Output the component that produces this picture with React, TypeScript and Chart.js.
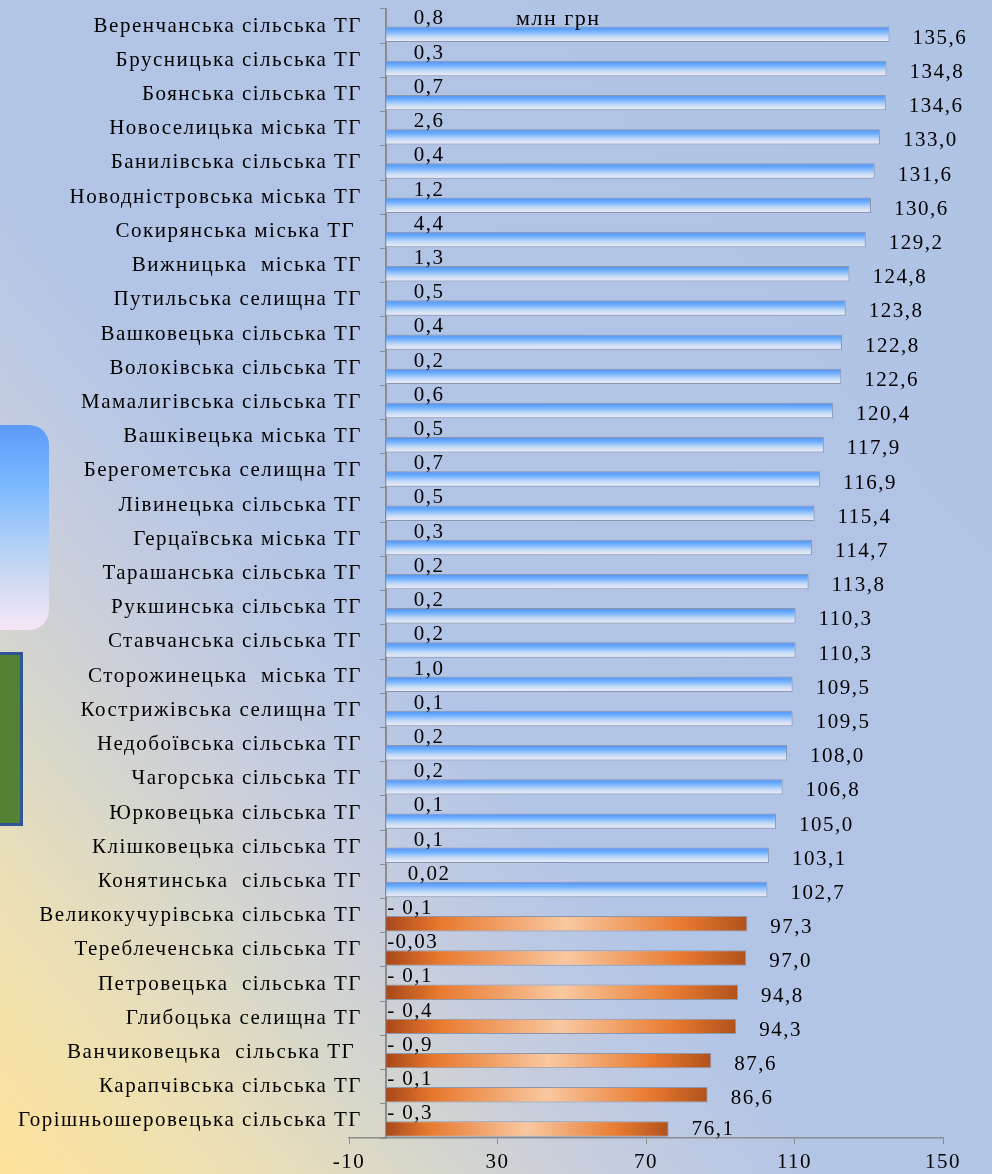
import React, { useEffect, useRef } from 'react';
import { Chart, registerables } from 'chart.js';

Chart.register(...registerables);

const categories = [
  'Веренчанська сільська ТГ',
  'Брусницька сільська ТГ',
  'Боянська сільська ТГ',
  'Новоселицька міська ТГ',
  'Банилівська сільська ТГ',
  'Новодністровська міська ТГ',
  'Сокирянська міська ТГ ',
  'Вижницька  міська ТГ',
  'Путильська селищна ТГ',
  'Вашковецька сільська ТГ',
  'Волоківська сільська ТГ',
  'Мамалигівська сільська ТГ',
  'Вашківецька міська ТГ',
  'Берегометська селищна ТГ',
  'Лівинецька сільська ТГ',
  'Герцаївська міська ТГ',
  'Тарашанська сільська ТГ',
  'Рукшинська сільська ТГ',
  'Ставчанська сільська ТГ',
  'Сторожинецька  міська ТГ',
  'Кострижівська селищна ТГ',
  'Недобоївська сільська ТГ',
  'Чагорська сільська ТГ',
  'Юрковецька сільська ТГ',
  'Клішковецька сільська ТГ',
  'Конятинська  сільська ТГ',
  'Великокучурівська сільська ТГ',
  'Тереблеченська сільська ТГ',
  'Петровецька  сільська ТГ',
  'Глибоцька селищна ТГ',
  'Ванчиковецька  сільська ТГ ',
  'Карапчівська сільська ТГ',
  'Горішньошеровецька сільська ТГ',
];

const changeValues = [
  0.8, 0.3, 0.7, 2.6, 0.4, 1.2, 4.4, 1.3, 0.5, 0.4, 0.2, 0.6, 0.5, 0.7, 0.5, 0.3,
  0.2, 0.2, 0.2, 1.0, 0.1, 0.2, 0.2, 0.1, 0.1, 0.02, -0.1, -0.03, -0.1, -0.4, -0.9,
  -0.1, -0.3,
];

const mainValues = [
  135.6, 134.8, 134.6, 133.0, 131.6, 130.6, 129.2, 124.8, 123.8, 122.8, 122.6, 120.4,
  117.9, 116.9, 115.4, 114.7, 113.8, 110.3, 110.3, 109.5, 109.5, 108.0, 106.8, 105.0,
  103.1, 102.7, 97.3, 97.0, 94.8, 94.3, 87.6, 86.6, 76.1,
];

const xTicks = [-10, 30, 70, 110, 150];
const unitLabel = 'млн грн';
const threshold = 100;

const CATEGORY_PCT = 0.95;
const BAR_PCT = 0.95;
const FONT = "'Liberation Serif', 'Times New Roman', serif";
const AXIS_GRAY = '#8c8c8c';
const SPACING = '1.5px';

function fmt(v: number, decimals: number) {
  return v.toFixed(decimals).replace('.', ',');
}

function changeText(v: number) {
  const dec = Math.abs(v) > 0 && Math.abs(v) < 0.1 ? 2 : 1;
  if (v < 0) {
    return dec === 2 ? '-' + fmt(Math.abs(v), dec) : '- ' + fmt(Math.abs(v), dec);
  }
  return fmt(v, dec);
}

function mainFill(ctx: any) {
  const chart = ctx.chart;
  const area = chart.chartArea;
  const v = ctx.raw as number;
  const isBlue = v >= threshold;
  if (!area || ctx.type !== 'data' || !chart.scales.x || !chart.scales.y) {
    return isBlue ? '#6aa8f8' : '#e8803a';
  }
  const xs = chart.scales.x;
  const ys = chart.scales.y;
  const c2d = chart.ctx as CanvasRenderingContext2D;
  if (isBlue) {
    const i = ctx.dataIndex;
    const cat = Math.abs(ys.getPixelForValue(1) - ys.getPixelForValue(0));
    const slot = (cat * CATEGORY_PCT) / 2;
    const thick = slot * BAR_PCT;
    const mid = ys.getPixelForValue(i) + slot / 2;
    const g = c2d.createLinearGradient(0, mid - thick / 2, 0, mid + thick / 2);
    g.addColorStop(0, '#4f8ef0');
    g.addColorStop(0.3, '#6fb0ff');
    g.addColorStop(0.65, '#c4daf6');
    g.addColorStop(1, '#f2eef6');
    return g;
  }
  const x0 = xs.getPixelForValue(0);
  const x1 = xs.getPixelForValue(v);
  const g = c2d.createLinearGradient(x0, 0, x1, 0);
  g.addColorStop(0, '#a8481a');
  g.addColorStop(0.15, '#e8792e');
  g.addColorStop(0.5, '#f9c8a0');
  g.addColorStop(0.82, '#e87a30');
  g.addColorStop(1, '#b0521c');
  return g;
}

const spacingPlugin = {
  id: 'letterSpacing',
  beforeLayout(chart: any) {
    (chart.ctx as any).letterSpacing = SPACING;
  },
  beforeDraw(chart: any) {
    (chart.ctx as any).letterSpacing = SPACING;
  },
};

const labelPlugin = {
  id: 'valueLabels',
  afterDatasetsDraw(chart: any) {
    const c = chart.ctx as CanvasRenderingContext2D;
    const xs = chart.scales.x;
    const x0 = xs.getPixelForValue(0);
    c.save();
    (c as any).letterSpacing = SPACING;
    c.fillStyle = '#000';
    c.textBaseline = 'middle';
    c.font = `21px ${FONT}`;
    const smallMeta = chart.getDatasetMeta(0);
    smallMeta.data.forEach((el: any, i: number) => {
      const v = changeValues[i];
      if (v >= 0) {
        c.textAlign = 'center';
        c.fillText(changeText(v), x0 + 43, el.y + 1);
      } else {
        c.textAlign = 'left';
        c.fillText(changeText(v), x0 + 1, el.y + 1);
      }
    });
    const mainMeta = chart.getDatasetMeta(1);
    mainMeta.data.forEach((el: any, i: number) => {
      const v = mainValues[i];
      c.textAlign = 'left';
      const dy = i === mainValues.length - 1 ? 0 : 4;
      c.fillText(fmt(v, 1), xs.getPixelForValue(v) + 23, el.y + dy);
    });
    c.textAlign = 'left';
    c.font = `22px ${FONT}`;
    c.fillText(unitLabel, xs.getPixelForValue(35), smallMeta.data[0].y + 1);
    c.restore();
  },
};

export default function App() {
  const canvasRef = useRef<HTMLCanvasElement | null>(null);

  useEffect(() => {
    if (!canvasRef.current) return;
    Chart.defaults.font.family = FONT;
    Chart.defaults.color = '#000';
    const chart = new Chart(canvasRef.current, {
      type: 'bar',
      data: {
        labels: categories,
        datasets: [
          {
            label: 'Зміна, млн грн',
            data: changeValues,
            backgroundColor: 'rgba(0,0,0,0)',
            borderWidth: 0,
            categoryPercentage: CATEGORY_PCT,
            barPercentage: BAR_PCT,
          },
          {
            label: 'Значення',
            data: mainValues,
            backgroundColor: mainFill as any,
            borderColor: '#8a97ad',
            borderWidth: 1,
            categoryPercentage: CATEGORY_PCT,
            barPercentage: BAR_PCT,
          },
        ],
      },
      options: {
        indexAxis: 'y',
        responsive: false,
        animation: false,
        layout: { padding: { left: 349, right: 49, top: 9, bottom: 0 } },
        plugins: {
          legend: { display: false },
          tooltip: { enabled: false },
          title: { display: false },
        },
        scales: {
          x: {
            type: 'linear',
            min: -10,
            max: 150,
            afterBuildTicks: (s: any) => {
              s.ticks = xTicks.map((v) => ({ value: v }));
            },
            grid: { drawOnChartArea: false, drawTicks: true, tickLength: 6, color: AXIS_GRAY },
            border: { color: AXIS_GRAY, width: 1.5 },
            ticks: { color: '#000', font: { size: 21, family: FONT }, padding: 6 },
            afterFit: (s: any) => {
              s.height = 36;
              s.paddingLeft = 0;
              s.paddingRight = 0;
            },
          },
          y: {
            type: 'category',
            axis: 'y',
            position: { x: -6.5 } as any,
            offset: true,
            grid: { display: false, offset: true },
            border: { display: false },
            ticks: { color: '#000', font: { size: 21, family: FONT }, autoSkip: false },
            afterFit: (s: any) => {
              s.paddingTop = 0;
              s.paddingBottom = 0;
            },
          },
          y2: {
            type: 'category',
            axis: 'y',
            position: { x: 0 } as any,
            offset: true,
            grid: {
              drawOnChartArea: false,
              drawTicks: true,
              tickLength: 5,
              color: AXIS_GRAY,
              offset: true,
            },
            border: { color: AXIS_GRAY, width: 2 },
            ticks: { display: false },
            afterFit: (s: any) => {
              s.paddingTop = 0;
              s.paddingBottom = 0;
            },
          },
        } as any,
      },
      plugins: [spacingPlugin, labelPlugin],
    });
    return () => chart.destroy();
  }, []);

  return (
    <div
      style={{
        position: 'absolute',
        left: 0,
        top: 0,
        width: 992,
        height: 1174,
        overflow: 'hidden',
        background:
          'linear-gradient(to top right, #fde29a 0%, #ece0b4 12%, #d6d6cc 22%, #c4cce0 32%, #b3c5e6 42%, #afc3e5 100%)',
      }}
    >
      <div
        style={{
          position: 'absolute',
          left: -30,
          top: 425,
          width: 79,
          height: 205,
          borderRadius: 20,
          background: 'linear-gradient(to bottom, #5b9af8 0%, #7cbaff 30%, #c6d8f2 70%, #f6e6f6 100%)',
        }}
      />
      <div
        style={{
          position: 'absolute',
          left: -10,
          top: 652,
          width: 33,
          height: 174,
          boxSizing: 'border-box',
          border: '3px solid #2f5597',
          background: '#548235',
        }}
      />
      <canvas
        ref={canvasRef}
        width={992}
        height={1174}
        style={{ position: 'absolute', left: 0, top: 0, display: 'block' }}
      />
    </div>
  );
}
